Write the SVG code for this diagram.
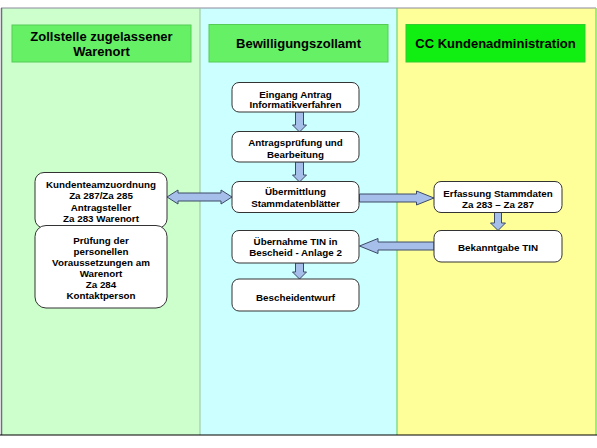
<svg xmlns="http://www.w3.org/2000/svg" width="597" height="448" viewBox="0 0 597 448">
<style>
.hdr{font-family:"Liberation Sans",Arial,sans-serif;font-weight:bold;font-size:13px;text-anchor:middle;fill:#000}
.t{font-family:"Liberation Sans",Arial,sans-serif;font-weight:bold;font-size:9.8px;text-anchor:middle;fill:#000}
.box{fill:#fff;stroke:#333;stroke-width:1}
.arr{fill:#a6bfea;stroke:#3d4a66;stroke-width:1;stroke-linejoin:miter}
</style>
<rect x="0" y="0" width="597" height="448" fill="#fff"/>
<g id="lanes">
<rect x="1" y="8" width="199" height="427" fill="#ccffcc"/>
<rect x="200" y="8" width="197" height="427" fill="#ccffff"/>
<rect x="397" y="8" width="199" height="427" fill="#ffff99"/>
<line x1="1" y1="8" x2="596" y2="8" stroke="#8a8a9a" stroke-width="1"/>
<line x1="1.5" y1="8" x2="1.5" y2="435" stroke="#6e6e80" stroke-width="1.5"/>
<line x1="200" y1="8" x2="200" y2="435" stroke="#99c499" stroke-width="1"/>
<line x1="397" y1="8" x2="397" y2="435" stroke="#66cc44" stroke-width="1"/>
<line x1="596" y1="8" x2="596" y2="435" stroke="#77ee55" stroke-width="1.5"/>
<line x1="0" y1="435" x2="597" y2="435" stroke="#000" stroke-width="1.2"/>
</g>
<g id="header-left">
<rect x="12" y="25" width="179" height="37" fill="#66f066" stroke="#55cc55"/>
<text class="hdr" x="101.5" y="41">Zollstelle zugelassener</text>
<text class="hdr" x="101.5" y="56">Warenort</text>
</g>
<g id="header-middle">
<rect x="209" y="24.5" width="179" height="37.5" fill="#66f066" stroke="#55cc55"/>
<text class="hdr" x="298.5" y="48">Bewilligungszollamt</text>
</g>
<g id="header-right">
<rect x="406" y="24.5" width="179" height="37.5" fill="#11ee11" stroke="#33cc33"/>
<text class="hdr" x="495.5" y="48">CC Kundenadministration</text>
</g>
<g id="connectors">
<polygon class="arr" points="295.5,112 303.5,112 303.5,125 306.5,125 299.5,132 292.5,125 295.5,125"/>
<polygon class="arr" points="295.5,162 303.5,162 303.5,175 306.5,175 299.5,182 292.5,175 295.5,175"/>
<polygon class="arr" points="295.5,263 303.5,263 303.5,272 306.5,272 299.5,279 292.5,272 295.5,272"/>
<polygon class="arr" points="494.5,212.5 501.5,212.5 501.5,223 505.5,223 498,230.5 490.5,223 494.5,223"/>
<polygon class="arr" points="167,197 178,190 178,193 221,193 221,190 232,197 221,204 221,201 178,201 178,204"/>
<polygon class="arr" points="359.5,194 416.5,194 416.5,191 434,198 416.5,205 416.5,202 359.5,202"/>
<polygon class="arr" points="434,242 378,242 378,238.5 359.5,246 378,253.5 378,250 434,250"/>
</g>
<g id="n-eingang">
<rect class="box" x="232" y="82.5" width="127" height="29.5" rx="7"/>
<text class="t" x="295.5" y="97.5">Eingang Antrag</text>
<text class="t" x="295.5" y="108">Informatikverfahren</text>
</g>
<g id="n-pruefung">
<rect class="box" x="232" y="131.5" width="127" height="30.5" rx="7"/>
<text class="t" x="295.5" y="146">Antragsprüfung und</text>
<text class="t" x="295.5" y="157.5">Bearbeitung</text>
</g>
<g id="n-uebermittlung">
<rect class="box" x="232" y="181.5" width="127" height="31" rx="7"/>
<text class="t" x="295.5" y="194.5">Übermittlung</text>
<text class="t" x="295.5" y="206.5">Stammdatenblätter</text>
</g>
<g id="n-uebernahme">
<rect class="box" x="232" y="230.5" width="127" height="32.5" rx="7"/>
<text class="t" x="295.5" y="245">Übernahme TIN in</text>
<text class="t" x="295.5" y="256">Bescheid - Anlage 2</text>
</g>
<g id="n-bescheid">
<rect class="box" x="232" y="279" width="127" height="32" rx="7"/>
<text class="t" x="295.5" y="301">Bescheidentwurf</text>
</g>
<g id="n-kundenteam">
<rect class="box" x="35" y="172.5" width="132" height="55.5" rx="9"/>
<text class="t" x="101" y="188">Kundenteamzuordnung</text>
<text class="t" x="101" y="199">Za 287/Za 285</text>
<text class="t" x="101" y="210.5">Antragsteller</text>
<text class="t" x="101" y="221.5">Za 283 Warenort</text>
</g>
<g id="n-pruefung-warenort">
<rect class="box" x="35" y="225.5" width="132" height="82.5" rx="11"/>
<text class="t" x="101" y="243.5">Prüfung  der</text>
<text class="t" x="101" y="254.5">personellen</text>
<text class="t" x="101" y="265.5">Voraussetzungen am</text>
<text class="t" x="101" y="276.5">Warenort</text>
<text class="t" x="101" y="287.5">Za 284</text>
<text class="t" x="101" y="298.5">Kontaktperson</text>
</g>
<g id="n-erfassung">
<rect class="box" x="434" y="181.5" width="128" height="31" rx="7"/>
<text class="t" x="498" y="197">Erfassung Stammdaten</text>
<text class="t" x="498" y="207.5">Za 283 – Za 287</text>
</g>
<g id="n-bekanntgabe">
<rect class="box" x="434" y="230.5" width="128" height="31.5" rx="7"/>
<text class="t" x="498" y="250.5">Bekanntgabe TIN</text>
</g>
</svg>
